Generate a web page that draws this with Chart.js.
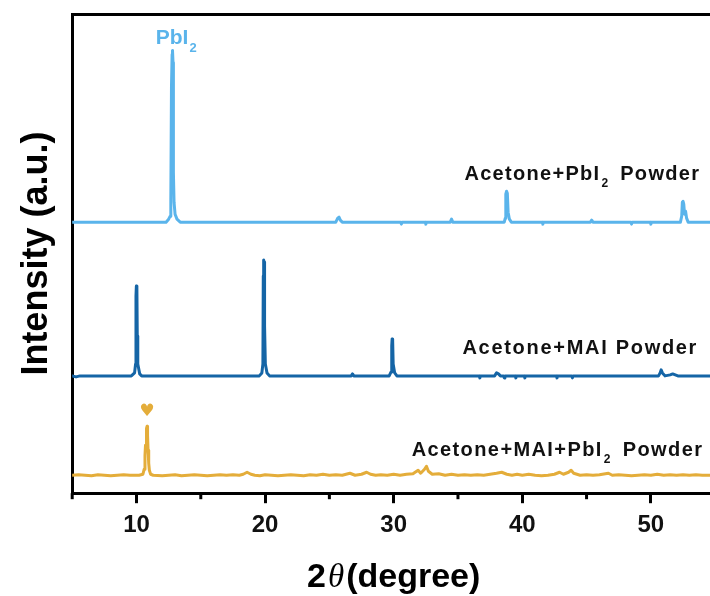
<!DOCTYPE html>
<html lang="en">
<head>
    <meta charset="UTF-8">
    <title>XRD patterns</title>
    <script src="https://cdn.jsdelivr.net/npm/chart.js"></script>
    <style>
        body { margin: 0; background: #fff; overflow: hidden; }
        #chart { display: block; }
    </style>
</head>
<body>
    <canvas id="chart" width="710" height="596"></canvas>

    <script>
        // 2theta (degree) vs intensity above each pattern's own baseline (a.u.)
        const pbi2Powder = [
            [5, 0], [8, 0], [11, 0], [12.3, 0], [12.5, 3], [12.62, 6], [12.67, 22], [12.72, 135], [12.77, 168],
            [12.8, 172], [12.84, 160], [12.87, 50], [12.92, 20], [13.0, 8], [13.15, 3], [13.4, 0], [16, 0], [20, 0],
            [25.5, 0], [25.65, 4], [25.75, 5], [25.85, 2], [26.0, 0], [28, 0], [30.55, 0], [30.6, -2], [30.65, 0],
            [32.45, 0], [32.5, -2], [32.55, 0], [34.4, 0], [34.5, 3], [34.6, 0], [38.6, 0], [38.68, 4],
            [38.72, 28], [38.78, 31], [38.84, 29], [38.9, 10], [39.0, 3], [39.15, 0], [41.55, 0],
            [41.6, -2], [41.65, 0], [45.3, 0], [45.4, 2], [45.5, 0], [48.45, 0], [48.5, -2], [48.55, 0],
            [49.95, 0], [50, -2], [50.05, 0], [52.3, 0], [52.4, 6], [52.45, 20], [52.5, 21], [52.56, 18],
            [52.62, 8], [52.7, 11], [52.78, 4], [52.9, 0], [54.6, 0]
        ];
        const maiPowder = [
            [5, 0], [5.3, -1], [5.6, 0], [9.6, 0], [9.85, 3], [9.93, 12], [9.96, 80], [9.99, 90], [10.03, 89],
            [10.06, 40], [10.1, 12], [10.25, 2], [10.4, 0], [19.55, 0], [19.75, 3], [19.83, 12], [19.86, 100],
            [19.89, 116], [19.93, 114], [19.96, 50], [20.02, 12], [20.15, 3], [20.35, 0], [26.7, 0], [26.8, 2],
            [26.9, 0], [29.65, 0], [29.8, 4], [29.85, 30], [29.88, 37], [29.92, 36], [29.96, 12], [30.08, 3],
            [30.25, 0], [36.65, 0], [36.7, -2], [36.75, 0], [37.85, 0], [38.0, 3], [38.15, 2], [38.3, 0],
            [38.55, 0], [38.6, -2], [38.65, 0], [39.45, 0], [39.5, -2], [39.55, 0], [40.15, 0], [40.2, -2],
            [40.25, 0], [42.65, 0], [42.7, -2], [42.75, 0], [43.85, 0], [43.9, -2], [43.95, 0],
            [50.6, 0], [50.72, 3], [50.8, 6], [50.9, 3], [51.1, 0], [51.5, 1], [51.7, 2], [51.9, 1],
            [52.1, 0], [54.6, 0]
        ];
        const maiPbi2Powder = [
            [5, 0], [5.5, 0.5], [6, 0], [6.5, -0.5], [7, 0.5], [7.5, 0], [8, -0.5], [8.5, 0], [9, 0.5], [9.5, 0],
            [10.2, 0], [10.5, 1], [10.6, 6], [10.66, 20], [10.7, 30], [10.75, 25], [10.78, 47], [10.82, 49],
            [10.86, 40], [10.9, 25], [10.95, 12], [11.0, 5], [11.1, 1], [11.3, 0], [12, -0.5], [12.5, 0], [13, 0.5],
            [13.5, -0.5], [14, 0], [14.5, 0.5], [15, 0], [15.5, -0.5], [16, 0], [16.5, 0.5], [17, 0], [17.5, 0.5],
            [18, 0], [18.3, 1], [18.6, 3], [18.9, 1], [19.2, 0], [19.6, -0.5], [20, 0.5], [20.5, 0], [21, -0.5],
            [21.5, 0], [22, 0.5], [22.5, 0], [23, -0.5], [23.5, 0.5], [24, 0], [24.5, 1], [25, 0], [25.5, 0.5],
            [26, 0], [26.6, 2], [27, 0], [27.5, 1], [27.9, 3], [28.2, 1], [28.6, 0], [29, 0.5], [29.5, 0],
            [30, 1], [30.5, 0], [31, 1], [31.5, 1.5], [31.9, 5], [32.1, 2], [32.4, 6], [32.55, 9], [32.7, 4],
            [33, 1], [33.5, 1.5], [34, 0], [34.5, 1], [35, 0], [35.5, 0.5], [36, 0], [36.5, 0.5], [37, 0],
            [37.5, 1], [38, 2], [38.4, 3], [38.8, 1], [39.2, 0], [39.6, 1], [40, 0], [40.5, 1], [41, 0],
            [41.5, -0.5], [42, 0], [42.5, 1], [42.9, 3], [43.2, 1], [43.6, 3], [43.8, 5], [44, 2], [44.5, 0],
            [45, 0.5], [45.5, 0], [46, 0.5], [46.7, 2], [47, 0], [47.5, 0.5], [48, 0], [48.5, -0.5], [49, 0],
            [49.5, 0.5], [50, 0], [50.5, 1], [51, 0], [51.5, 0.5], [52, 0], [52.5, 0.5], [53, 0], [53.5, 0.5],
            [54, 0], [54.6, 0]
        ];

        const seriesNames = ['Acetone+PbI₂ Powder', 'Acetone+MAI Powder', 'Acetone+MAI+PbI₂ Powder'];
        const seriesData = [pbi2Powder, maiPowder, maiPbi2Powder];
        const seriesOffsets = [271.5, 117.5, 18];
        const seriesColors = ['#5ab4eb', '#1565a6', '#e4ad3a'];

        // where the pattern names sit (2theta, stacked intensity) and their letter spacing
        const nameX = [35.5, 35.35, 31.4];
        const nameY = [314, 139, 37];
        const nameSpacing = [1.3, 1.7, 1.4];

        const xTicks = [5, 10, 15, 20, 25, 30, 35, 40, 45, 50];

        const FONT = '"Liberation Sans", Arial, sans-serif';

        // draw text where "₂" becomes a small subscript 2
        function drawSubText(ctx, text, x, y, size, subSize, subDrop, spacing) {
            const parts = text.split('₂');
            ctx.textBaseline = 'alphabetic';
            ctx.textAlign = 'left';
            ctx.letterSpacing = spacing + 'px';
            let cx = x;
            parts.forEach((p, i) => {
                ctx.font = 'bold ' + size + 'px ' + FONT;
                ctx.fillText(p, cx, y);
                cx += ctx.measureText(p).width;
                if (i < parts.length - 1) {
                    ctx.font = 'bold ' + subSize + 'px ' + FONT;
                    ctx.fillText('2', cx + 1, y + subDrop);
                    cx += ctx.measureText('2').width + 5;
                }
            });
            ctx.letterSpacing = '0px';
        }

        const annotations = {
            id: 'annotations',
            afterDraw(chart) {
                const ctx = chart.ctx;
                const x = chart.scales.x;
                const y = chart.scales.y;
                ctx.save();

                // short minor ticks
                ctx.strokeStyle = '#000';
                ctx.lineWidth = 3;
                xTicks.filter(v => v % 10 !== 0).forEach(v => {
                    const px = x.getPixelForValue(v);
                    ctx.beginPath();
                    ctx.moveTo(px, chart.chartArea.bottom);
                    ctx.lineTo(px, chart.chartArea.bottom + 6);
                    ctx.stroke();
                });

                // pattern names
                ctx.fillStyle = '#111';
                seriesNames.forEach((name, i) => {
                    drawSubText(ctx, name, x.getPixelForValue(nameX[i]), y.getPixelForValue(nameY[i]), 20, 12, 7, nameSpacing[i]);
                });

                // PbI2 peak label and heart marker
                ctx.fillStyle = seriesColors[0];
                drawSubText(ctx, 'PbI₂', x.getPixelForValue(11.5), y.getPixelForValue(450), 21, 13, 8, 0);
                ctx.fillStyle = seriesColors[2];
                ctx.font = '17px "DejaVu Sans", sans-serif';
                ctx.textAlign = 'center';
                ctx.textBaseline = 'middle';
                ctx.fillText('♥', x.getPixelForValue(10.8), y.getPixelForValue(82));

                // x title: 2θ(degree)
                ctx.fillStyle = '#000';
                ctx.textBaseline = 'alphabetic';
                ctx.textAlign = 'left';
                const fTwo = 'bold 34px ' + FONT;
                const fTheta = 'italic 33px "Liberation Serif", serif';
                ctx.font = fTwo;
                const w1 = ctx.measureText('2').width;
                const w3 = ctx.measureText('(degree)').width;
                ctx.font = fTheta;
                const w2 = ctx.measureText('θ').width + 4;
                const cx = x.getPixelForValue(30);
                const sx = cx - (w1 + w2 + w3) / 2;
                const by = 587;
                ctx.font = fTwo;
                ctx.fillText('2', sx, by);
                ctx.font = fTheta;
                ctx.fillText('θ', sx + w1 + 2, by);
                ctx.font = fTwo;
                ctx.fillText('(degree)', sx + w1 + w2, by);

                ctx.restore();
            }
        };

        const datasets = seriesData.map((pts, i) => ({
            label: seriesNames[i],
            data: pts.map(p => ({ x: p[0], y: p[1] + seriesOffsets[i] })),
            borderColor: seriesColors[i],
            borderWidth: 3,
            borderJoinStyle: 'round',
            borderCapStyle: 'round',
            pointRadius: 0,
            tension: 0,
            fill: false
        }));

        const chart = new Chart(document.getElementById('chart'), {
            type: 'line',
            data: { datasets: datasets },
            plugins: [annotations],
            options: {
                responsive: false,
                animation: false,
                events: [],
                layout: { padding: { left: 12, top: 14, right: 0, bottom: 48 } },
                plugins: { legend: { display: false }, tooltip: { enabled: false } },
                scales: {
                    x: {
                        type: 'linear',
                        position: 'bottom',
                        min: 5,
                        max: 54.6,
                        afterBuildTicks: axis => { axis.ticks = xTicks.map(v => ({ value: v })); },
                        grid: {
                            drawOnChartArea: false,
                            drawTicks: true,
                            tickLength: 10,
                            tickWidth: 3,
                            tickColor: c => (c.tick && c.tick.value % 10 === 0) ? '#000' : 'rgba(0,0,0,0)'
                        },
                        border: { display: true, color: '#000', width: 3 },
                        ticks: {
                            padding: 8,
                            color: '#111',
                            font: { family: FONT, size: 24, weight: 'bold' },
                            maxRotation: 0,
                            autoSkip: false,
                            callback: v => v % 10 === 0 ? v : ''
                        }
                    },
                    x2: {
                        type: 'linear',
                        position: 'top',
                        min: 5,
                        max: 54.6,
                        grid: { display: false, drawTicks: false },
                        ticks: { display: false },
                        border: { display: true, color: '#000', width: 3 }
                    },
                    y: {
                        min: 0,
                        max: 480,
                        grid: { display: false, drawTicks: false },
                        ticks: { display: false },
                        border: { display: true, color: '#000', width: 3 },
                        title: {
                            display: true,
                            text: 'Intensity (a.u.)',
                            color: '#000',
                            font: { family: FONT, size: 36, weight: 'bold' },
                            padding: { top: 3, bottom: 14 }
                        }
                    }
                }
            }
        });
    </script>
</body>
</html>
